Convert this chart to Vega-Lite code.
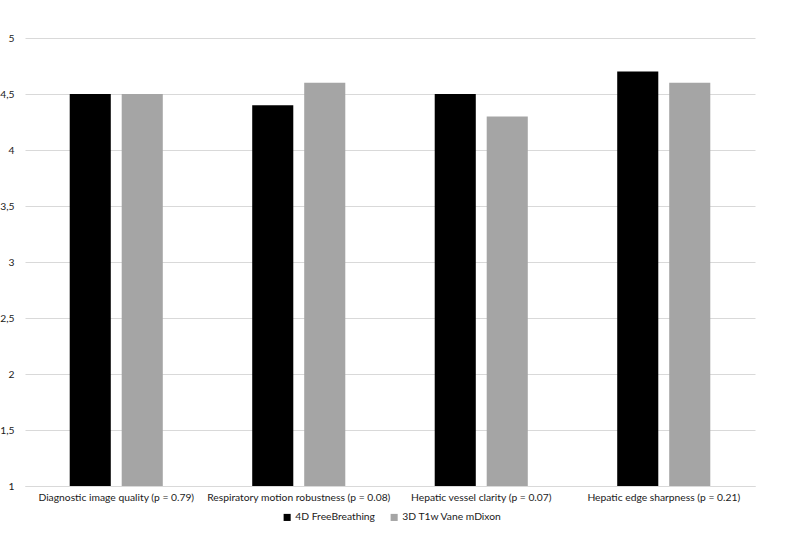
{
  "$schema": "https://vega.github.io/schema/vega-lite/v6.json",
  "width": 730,
  "height": 448,
  "autosize": {"type": "none"},
  "padding": {"left": 25, "top": 38, "right": 34, "bottom": 51},
  "background": "white",
  "config": {
    "font": "Lato",
    "view": {"stroke": null},
    "axis": {"labelFont": "Lato", "labelColor": "#1a1a1a", "labelFontSize": 10.3}
  },
  "data": {
    "values": [
      {"category": "Diagnostic image quality (p = 0.79)", "series": "4D FreeBreathing", "value": 4.5},
      {"category": "Diagnostic image quality (p = 0.79)", "series": "3D T1w Vane mDixon", "value": 4.5},
      {"category": "Respiratory motion robustness (p = 0.08)", "series": "4D FreeBreathing", "value": 4.4},
      {"category": "Respiratory motion robustness (p = 0.08)", "series": "3D T1w Vane mDixon", "value": 4.6},
      {"category": "Hepatic vessel clarity (p = 0.07)", "series": "4D FreeBreathing", "value": 4.5},
      {"category": "Hepatic vessel clarity (p = 0.07)", "series": "3D T1w Vane mDixon", "value": 4.3},
      {"category": "Hepatic edge sharpness (p = 0.21)", "series": "4D FreeBreathing", "value": 4.7},
      {"category": "Hepatic edge sharpness (p = 0.21)", "series": "3D T1w Vane mDixon", "value": 4.6}
    ]
  },
  "mark": {"type": "bar"},
  "encoding": {
    "x": {
      "field": "category",
      "type": "nominal",
      "sort": null,
      "title": null,
      "scale": {"paddingInner": 0.49, "paddingOuter": 0.245},
      "axis": {
        "labelAngle": 0,
        "ticks": false,
        "domainColor": "#d9d9d9",
        "labelPadding": 6,
        "labelLimit": 300
      }
    },
    "xOffset": {
      "field": "series",
      "type": "nominal",
      "sort": ["4D FreeBreathing", "3D T1w Vane mDixon"],
      "scale": {"paddingInner": 0.21, "paddingOuter": 0}
    },
    "y": {
      "field": "value",
      "type": "quantitative",
      "title": null,
      "scale": {"domain": [1, 5], "zero": false, "nice": false},
      "axis": {
        "values": [1, 1.5, 2, 2.5, 3, 3.5, 4, 4.5, 5],
        "format": "~g",
        "labelExpr": "replace(datum.label, '.', ',')",
        "domain": false,
        "ticks": false,
        "gridColor": "#d9d9d9",
        "labelPadding": 11
      }
    },
    "y2": {"datum": 1},
    "color": {
      "field": "series",
      "type": "nominal",
      "sort": ["4D FreeBreathing", "3D T1w Vane mDixon"],
      "scale": {"domain": ["4D FreeBreathing", "3D T1w Vane mDixon"], "range": ["#000000", "#a5a5a5"]},
      "legend": {
        "title": null,
        "orient": "none",
        "direction": "horizontal",
        "legendX": 257,
        "legendY": 474,
        "symbolType": "square",
        "symbolSize": 50,
        "symbolStrokeWidth": 0,
        "labelFont": "Lato",
        "labelFontSize": 10.3,
        "labelColor": "#1a1a1a",
        "columnPadding": 14,
        "labelOffset": 3
      }
    }
  }
}
